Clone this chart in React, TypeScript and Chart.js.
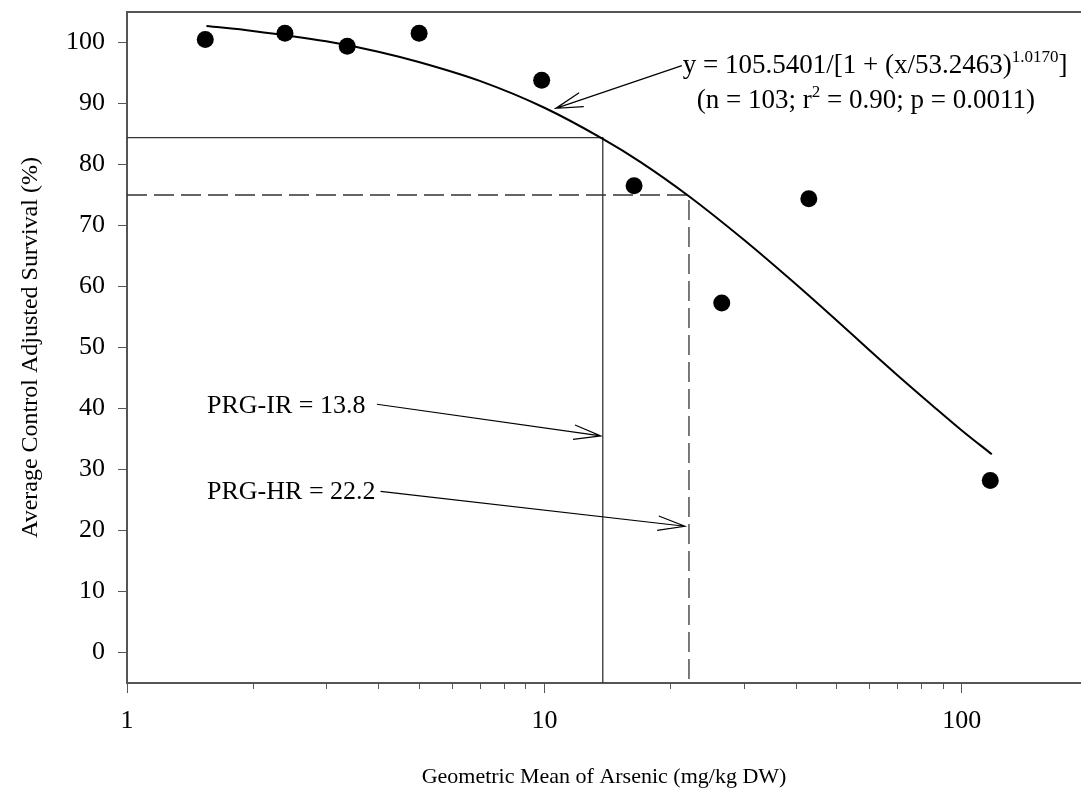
import { useEffect, useRef } from 'react';
import { Chart, registerables } from 'chart.js';

Chart.register(...registerables);

// ---- data ----
const obsX = [1.54, 2.39, 3.37, 5.01, 9.85, 16.4, 26.6, 43.0, 117];
const obsY = [100.5, 101.5, 99.4, 101.5, 93.8, 76.5, 57.3, 74.4, 28.2];

const fitX = [1.55, 2, 3, 4, 5, 7, 10, 13.8, 17, 22.2, 30, 40, 50, 60, 70, 85, 100, 118];
const fitY = [102.7, 101.9, 100.2, 98.5, 96.8, 93.7, 89.3, 84.2, 80.4, 74.8, 67.7, 60.4, 54.5, 49.6, 45.5, 40.5, 36.4, 32.5];

const prgIrX = 13.8;
const prgIrY = 84.4;
const prgHrX = 22.2;
const prgHrY = 75;

const yTickValues = [0, 10, 20, 30, 40, 50, 60, 70, 80, 90, 100];
const xMajorTicks = [1, 10, 100];
const xMinorTicks = [2, 3, 4, 5, 6, 7, 8, 9, 20, 30, 40, 50, 60, 70, 80, 90];

const xTitle = 'Geometric Mean of Arsenic (mg/kg DW)';
const yTitle = 'Average Control Adjusted Survival (%)';
const eqMain = 'y = 105.5401/[1 + (x/53.2463)';
const eqExp = '1.0170';
const eqEnd = ']';
const statA = '(n = 103; r';
const statSup = '2';
const statB = ' = 0.90; p = 0.0011)';
const irLabel = 'PRG-IR = 13.8';
const hrLabel = 'PRG-HR = 22.2';

// annotation anchors (data coordinates)
const eqAnchor = { x: 21.46, y: 95.0 };
const statAnchor = { x: 58.9, y: 89.3 };
const eqArrow = { x0: 21.35, y0: 96.2, x1: 10.65, y1: 89.2 };
const irText = { x: 1.555, y: 40.4 };
const irArrow = { x0: 3.97, y0: 40.7, x1: 13.65, y1: 35.5 };
const hrText = { x: 1.555, y: 26.3 };
const hrArrow = { x0: 4.05, y0: 26.4, x1: 21.7, y1: 20.7 };

const FONT = "'Liberation Serif', 'Times New Roman', serif";
const AXIS = '#555555';
const REF = '#333333';

function drawArrow(ctx: CanvasRenderingContext2D, x0: number, y0: number, x1: number, y1: number) {
  const ang = Math.atan2(y0 - y1, x0 - x1);
  const L = 28;
  const h = (15 * Math.PI) / 180;
  ctx.beginPath();
  ctx.moveTo(x0, y0);
  ctx.lineTo(x1, y1);
  ctx.moveTo(x1 + L * Math.cos(ang + h), y1 + L * Math.sin(ang + h));
  ctx.lineTo(x1, y1);
  ctx.lineTo(x1 + L * Math.cos(ang - h), y1 + L * Math.sin(ang - h));
  ctx.stroke();
}

const annotPlugin = {
  id: 'annot',
  afterDatasetsDraw(chart: any) {
    const { ctx, chartArea: a } = chart;
    const xs = chart.scales.x;
    const ys = chart.scales.y;
    const px = (v: number) => xs.getPixelForValue(v);
    const py = (v: number) => ys.getPixelForValue(v);
    ctx.save();
    // top frame line
    ctx.strokeStyle = AXIS;
    ctx.lineWidth = 2;
    ctx.beginPath();
    ctx.moveTo(a.left - 1, a.top);
    ctx.lineTo(a.right, a.top);
    ctx.stroke();
    // minor x ticks
    ctx.lineWidth = 1;
    ctx.beginPath();
    for (const v of xMinorTicks) {
      const p = Math.round(px(v)) + 0.5;
      ctx.moveTo(p, a.bottom);
      ctx.lineTo(p, a.bottom + 6);
    }
    ctx.stroke();

    // text
    ctx.fillStyle = '#000';
    ctx.strokeStyle = '#000';
    ctx.textBaseline = 'alphabetic';
    ctx.textAlign = 'left';
    // equation line 1
    let x = px(eqAnchor.x);
    let y = py(eqAnchor.y);
    ctx.font = `27px ${FONT}`;
    ctx.fillText(eqMain, x, y);
    x += ctx.measureText(eqMain).width;
    ctx.font = `17px ${FONT}`;
    ctx.fillText(eqExp, x, y - 11);
    x += ctx.measureText(eqExp).width;
    ctx.font = `27px ${FONT}`;
    ctx.fillText(eqEnd, x, y);
    // stats line 2
    ctx.font = `27px ${FONT}`;
    const wA = ctx.measureText(statA).width;
    const wB = ctx.measureText(statB).width;
    ctx.font = `17px ${FONT}`;
    const wS = ctx.measureText(statSup).width;
    const total = wA + wS + wB;
    x = px(statAnchor.x) - total / 2;
    y = py(statAnchor.y);
    ctx.font = `27px ${FONT}`;
    ctx.fillText(statA, x, y);
    ctx.font = `17px ${FONT}`;
    ctx.fillText(statSup, x + wA, y - 11);
    ctx.font = `27px ${FONT}`;
    ctx.fillText(statB, x + wA + wS, y);

    // PRG labels
    ctx.font = `26px ${FONT}`;
    ctx.textBaseline = 'middle';
    ctx.fillText(irLabel, px(irText.x), py(irText.y));
    ctx.fillText(hrLabel, px(hrText.x), py(hrText.y));

    // arrows
    ctx.lineWidth = 1.2;
    drawArrow(ctx, px(eqArrow.x0), py(eqArrow.y0), px(eqArrow.x1), py(eqArrow.y1));
    drawArrow(ctx, px(irArrow.x0), py(irArrow.y0), px(irArrow.x1), py(irArrow.y1));
    drawArrow(ctx, px(hrArrow.x0), py(hrArrow.y0), px(hrArrow.x1), py(hrArrow.y1));
    ctx.restore();
  },
};

export default function App() {
  const ref = useRef<HTMLCanvasElement | null>(null);
  useEffect(() => {
    document.body.style.margin = '0';
    const canvas = ref.current;
    if (!canvas) return;
    const chart = new Chart(canvas, {
      type: 'scatter',
      data: {
        datasets: [
          {
            type: 'scatter',
            label: 'observed',
            data: obsX.map((v, i) => ({ x: v, y: obsY[i] })),
            pointRadius: 8.5,
            pointBackgroundColor: '#000',
            pointBorderWidth: 0,
            order: 0,
          },
          {
            type: 'line',
            label: 'fit',
            data: fitX.map((v, i) => ({ x: v, y: fitY[i] })),
            borderColor: '#000',
            borderWidth: 2,
            pointRadius: 0,
            cubicInterpolationMode: 'monotone',
            fill: false,
            order: 1,
          },
          {
            type: 'line',
            label: 'PRG-IR',
            data: [
              { x: 1, y: prgIrY },
              { x: prgIrX, y: prgIrY },
              { x: prgIrX, y: -5 },
            ],
            borderColor: REF,
            borderWidth: 1.3,
            pointRadius: 0,
            tension: 0,
            fill: false,
            order: 2,
          },
          {
            type: 'line',
            label: 'PRG-HR',
            data: [
              { x: 1, y: prgHrY },
              { x: prgHrX, y: prgHrY },
              { x: prgHrX, y: -5 },
            ],
            borderColor: REF,
            borderWidth: 1.3,
            borderDash: [20, 7],
            pointRadius: 0,
            tension: 0,
            fill: false,
            order: 3,
          },
        ] as any,
      },
      options: {
        animation: false,
        responsive: false,
        devicePixelRatio: 1,
        layout: { autoPadding: false, padding: { top: 12, right: 0, bottom: 0, left: 0 } },
        plugins: { legend: { display: false }, tooltip: { enabled: false } },
        scales: {
          x: {
            type: 'logarithmic',
            position: 'bottom',
            min: 1,
            max: 193,
            afterBuildTicks: (s: any) => {
              s.ticks = [...xMajorTicks, ...xMinorTicks]
                .sort((p, q) => p - q)
                .map((v) => ({ value: v }));
            },
            afterFit: (s: any) => {
              s.height = 112;
              s.paddingLeft = 0;
              s.paddingRight = 0;
            },
            grid: {
              display: true,
              drawOnChartArea: false,
              drawTicks: true,
              tickLength: 10,
              tickColor: (c: any) =>
                c.tick && xMajorTicks.includes(c.tick.value) ? AXIS : 'rgba(0,0,0,0)',
              tickWidth: 1,
            },
            border: { display: true, color: AXIS, width: 2 },
            ticks: {
              autoSkip: false,
              maxRotation: 0,
              minRotation: 0,
              padding: 13,
              color: '#000',
              font: { family: FONT, size: 26 },
              callback: (v: any) => (xMajorTicks.includes(Number(v)) ? String(v) : ''),
            },
            title: {
              display: true,
              text: xTitle,
              color: '#000',
              font: { family: FONT, size: 22 },
              padding: { top: 0, bottom: 5 },
            },
          },
          y: {
            type: 'linear',
            position: 'left',
            min: -5,
            max: 105,
            afterBuildTicks: (s: any) => {
              s.ticks = yTickValues.map((v) => ({ value: v }));
            },
            afterFit: (s: any) => {
              s.width = 127;
              s.paddingTop = 0;
              s.paddingBottom = 0;
            },
            grid: {
              display: true,
              drawOnChartArea: false,
              drawTicks: true,
              tickLength: 9,
              tickColor: AXIS,
              tickWidth: 1,
            },
            border: { display: true, color: AXIS, width: 2 },
            ticks: {
              padding: 13,
              color: '#000',
              font: { family: FONT, size: 26 },
              callback: (v: any) => String(v),
            },
            title: {
              display: true,
              text: yTitle,
              color: '#000',
              font: { family: FONT, size: 24 },
              padding: { top: 16, bottom: 0 },
            },
          },
        },
      } as any,
      plugins: [annotPlugin],
    });
    return () => chart.destroy();
  }, []);
  return (
    <div style={{ position: 'absolute', left: 0, top: 0, width: 1081, height: 795 }}>
      <canvas ref={ref} width={1081} height={795} />
    </div>
  );
}
